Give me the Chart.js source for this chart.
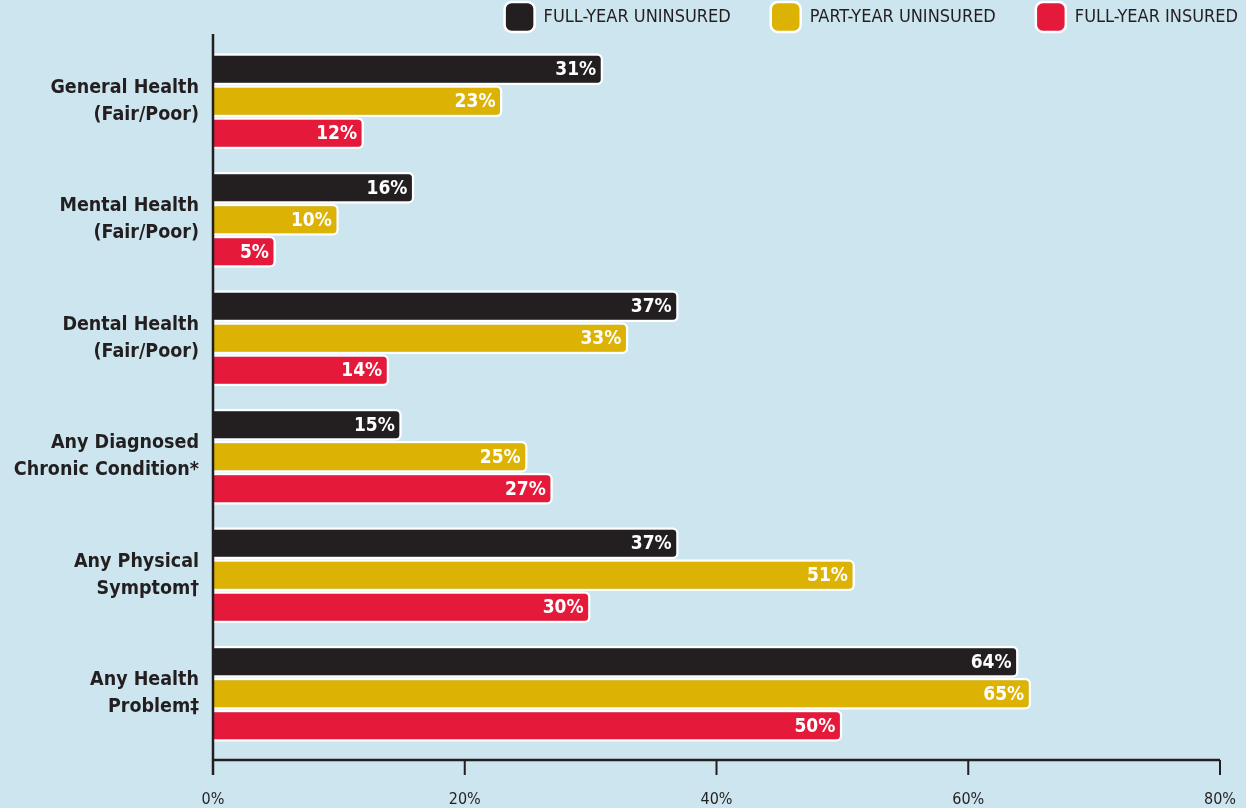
<!DOCTYPE html>
<html>
<head>
<meta charset="utf-8">
<script src="https://cdn.jsdelivr.net/npm/chart.js@4.4.1/dist/chart.umd.min.js"></script>
<style>
  html, body { margin: 0; padding: 0; background: #cde5ee; }
  #wrap { width: 1246px; height: 808px; position: relative; }
</style>
</head>
<body>
<div id="wrap"><canvas id="chart-health"></canvas></div>
<script>
const categories = [
    ["General Health", "(Fair/Poor)"],
    ["Mental Health", "(Fair/Poor)"],
    ["Dental Health", "(Fair/Poor)"],
    ["Any Diagnosed", "Chronic Condition*"],
    ["Any Physical", "Symptom\u2020"],
    ["Any Health", "Problem\u2021"],
];
const seriesNames = ["FULL-YEAR UNINSURED", "PART-YEAR UNINSURED", "FULL-YEAR INSURED"];
const fullYearUninsured = [31, 16, 37, 15, 37, 64];
const partYearUninsured = [23, 10, 33, 25, 51, 65];
const fullYearInsured = [12, 5, 14, 27, 30, 50];
const xTicks = [0, 20, 40, 60, 80];

const colors = ["#231f20", "#dcb205", "#e5193a"];
const fontFamily = "'Liberation Sans Narrow', 'DejaVu Sans Condensed', 'Arial Narrow', sans-serif";

// value labels drawn inside the bar ends
const barLabels = {
    id: "barLabels",
    afterDatasetsDraw(chart) {
        const ctx = chart.ctx;
        ctx.save();
        ctx.font = "bold 19px " + fontFamily;
        ctx.fillStyle = "#fff";
        ctx.textAlign = "right";
        ctx.textBaseline = "middle";
        chart.data.datasets.forEach((ds, i) => {
            chart.getDatasetMeta(i).data.forEach((bar, j) => {
                ctx.fillText(ds.data[j] + "%", bar.x - 7, bar.y + 1);
            });
        });
        ctx.restore();
    },
};

// axis lines and tick marks
const axisLines = {
    id: "axisLines",
    afterDraw(chart) {
        const ctx = chart.ctx;
        const x = chart.scales.x;
        const area = chart.chartArea;
        const axisY = area.bottom + 7;
        ctx.save();
        ctx.strokeStyle = "#231f20";
        ctx.lineWidth = 2.5;
        ctx.beginPath();
        ctx.moveTo(area.left, 34);
        ctx.lineTo(area.left, axisY + 15);
        ctx.moveTo(area.left, axisY);
        ctx.lineTo(x.getPixelForValue(80), axisY);
        ctx.stroke();
        ctx.lineWidth = 2;
        ctx.beginPath();
        xTicks.forEach((t) => {
            const px = x.getPixelForValue(t);
            ctx.moveTo(px, axisY);
            ctx.lineTo(px, axisY + 15);
        });
        ctx.stroke();
        ctx.restore();
    },
};

// push the legend out to the right edge
const legendShift = {
    id: "legendShift",
    afterLayout(chart) {
        const lg = chart.legend;
        if (!lg) return;
        lg.left += 58;
        lg.right += 58;
    },
};

const makeDataset = (label, data, i) => ({
    label: label,
    data: data,
    backgroundColor: colors[i],
    borderColor: "#fff",
    borderWidth: 2.5,
    borderSkipped: "start",
    borderRadius: 6,
    categoryPercentage: 0.81,
    barPercentage: 1,
});

const chartHealth = new Chart(document.getElementById("chart-health"), {
    type: "bar",
    data: {
        labels: categories,
        datasets: [
            makeDataset(seriesNames[0], fullYearUninsured, 0),
            makeDataset(seriesNames[1], partYearUninsured, 1),
            makeDataset(seriesNames[2], fullYearInsured, 2),
        ],
    },
    options: {
        indexAxis: "y",
        responsive: true,
        maintainAspectRatio: false,
        animation: false,
        layout: {
            padding: { top: -38, right: 26, bottom: 0, left: 0 },
        },
        plugins: {
            tooltip: { enabled: false },
            legend: {
                position: "top",
                align: "end",
                labels: {
                    color: "#231f20",
                    font: { family: fontFamily, size: 18 },
                    boxWidth: 30,
                    boxHeight: 30,
                    padding: 40,
                    useBorderRadius: true,
                    borderRadius: 7,
                },
            },
        },
        scales: {
            x: {
                min: 0,
                max: 80,
                grid: { display: false, drawTicks: false },
                border: { display: false },
                afterFit: (scale) => {
                    scale.height = 55;
                    scale.paddingLeft = 0;
                    scale.paddingRight = 0;
                },
                ticks: {
                    stepSize: 20,
                    padding: 37,
                    color: "#231f20",
                    font: { family: fontFamily, size: 16 },
                    callback: (v) => v + "%",
                },
            },
            y: {
                grid: { display: false, drawTicks: false },
                border: { display: false },
                afterFit: (scale) => {
                    scale.width = 213;
                    scale.paddingTop = 0;
                    scale.paddingBottom = 0;
                },
                ticks: {
                    padding: 14,
                    color: "#231f20",
                    font: { family: fontFamily, size: 19.5, weight: "bold", lineHeight: 1.38 },
                },
            },
        },
    },
    plugins: [barLabels, axisLines, legendShift],
});
</script>
</body>
</html>
